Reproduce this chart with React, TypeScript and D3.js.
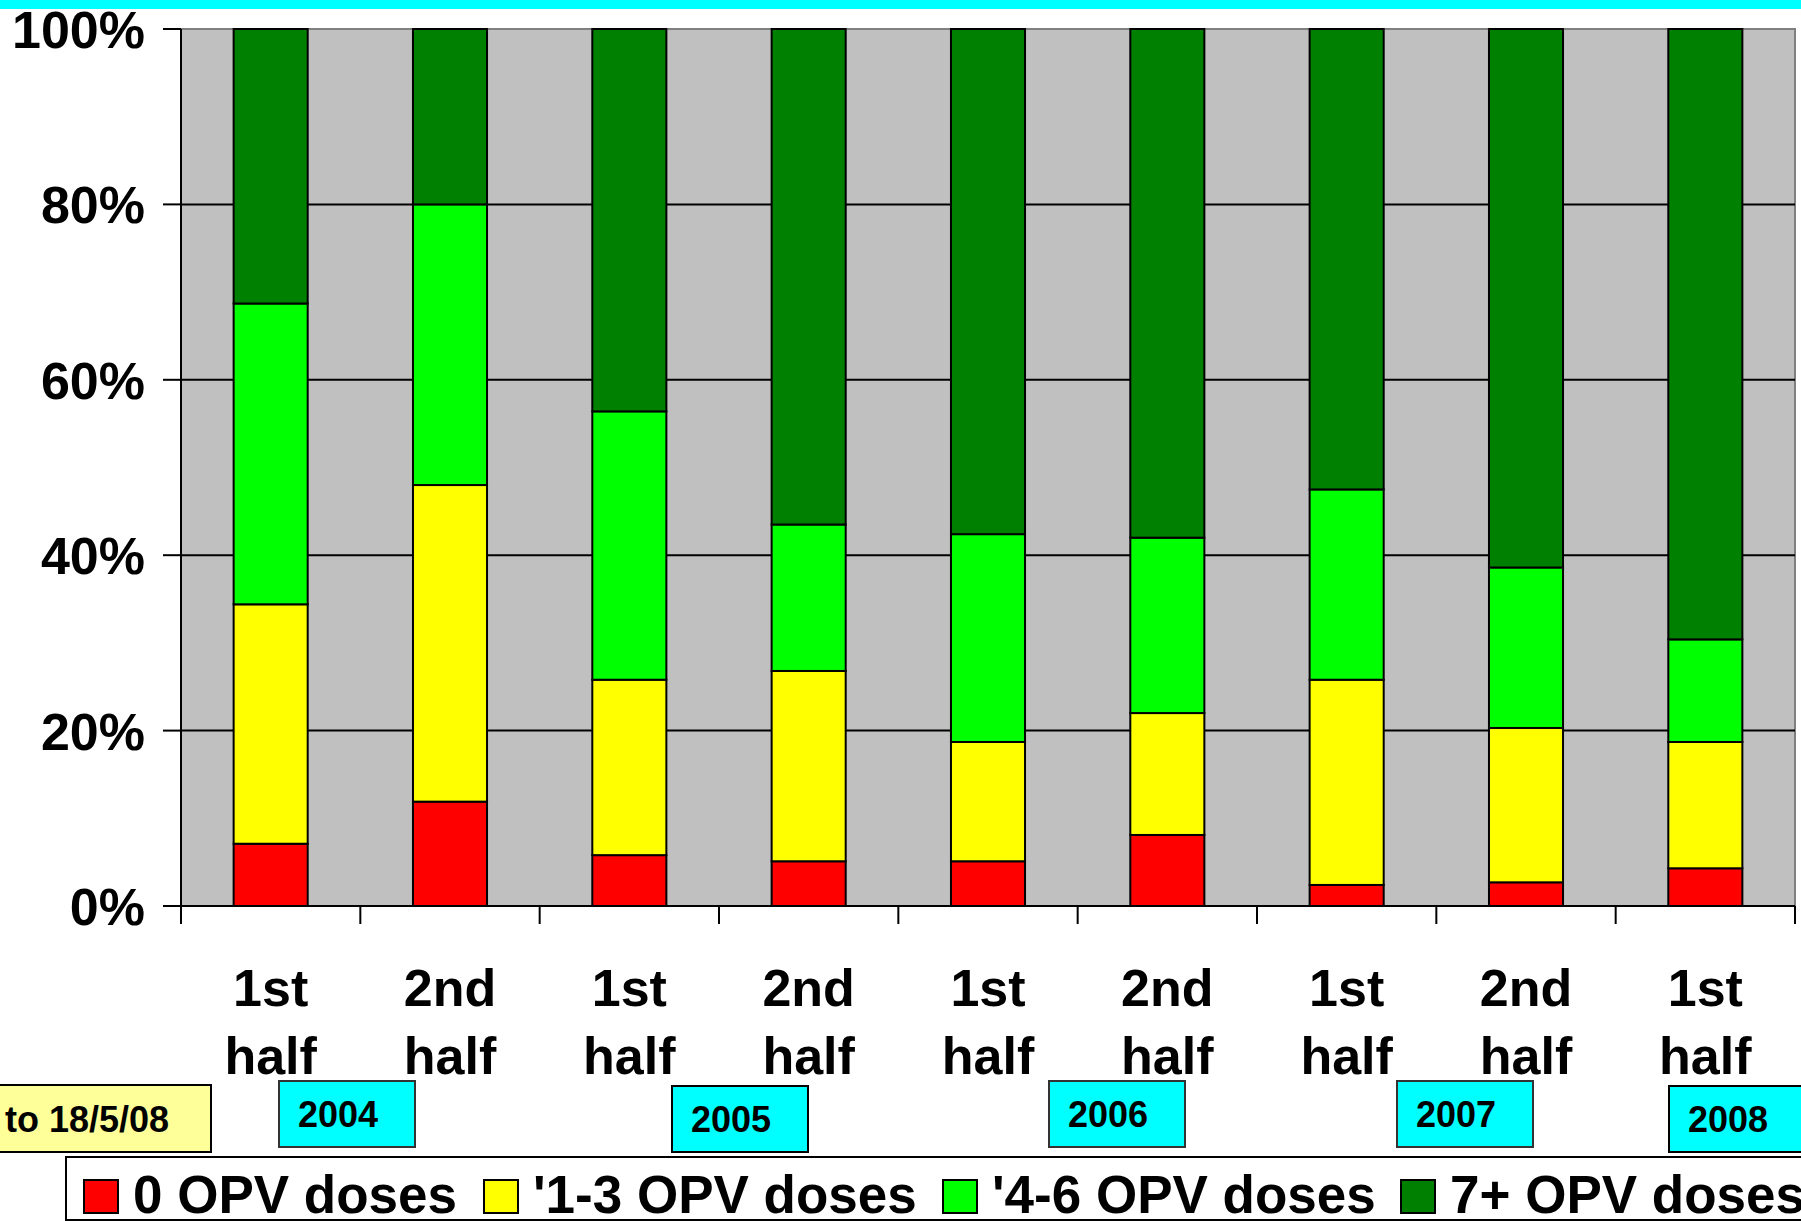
import React, { useEffect, useRef } from 'react';
import * as d3 from 'd3';

// Share of cases by OPV doses received, per half-year
const periods = ['1st half', '2nd half', '1st half', '2nd half', '1st half', '2nd half', '1st half', '2nd half', '1st half'];
const seriesNames = ['0 OPV doses', "'1-3 OPV doses", "'4-6 OPV doses", '7+ OPV doses'];
const seriesColors = ['#FF0000', '#FFFF00', '#00FF00', '#008000'];
const zeroDoses = [7.1, 11.9, 5.8, 5.1, 5.1, 8.1, 2.4, 2.7, 4.3];
const oneToThree = [27.3, 36.1, 20.0, 21.7, 13.6, 13.9, 23.4, 17.6, 14.4];
const fourToSix = [34.3, 32.0, 30.6, 16.7, 23.7, 20.0, 21.7, 18.3, 11.7];
const sevenPlus = [31.3, 20.0, 43.6, 56.5, 57.6, 58.0, 52.5, 61.4, 69.6];
const yTicks = [0, 20, 40, 60, 80, 100];
const years = ['2004', '2005', '2006', '2007', '2008'];
const dateNote = 'to 18/5/08';

const FONT = "'Liberation Sans', Arial, sans-serif";

const App = () => {
  const svgRef = useRef(null);

  useEffect(() => {
    document.body.style.margin = '0';
    const width = 1801;
    const height = 1221;
    const left = 181, right = 1795, top = 29, bottom = 906;

    const svg = d3.select(svgRef.current);
    svg.selectAll('*').remove();
    svg.attr('width', width).attr('height', height).style('display', 'block').style('background', '#fff');

    const rows = periods.map((p, i) => ({
      i, s0: zeroDoses[i], s1: oneToThree[i], s2: fourToSix[i], s3: sevenPlus[i]
    }));
    const keys = ['s0', 's1', 's2', 's3'];
    const stacked = d3.stack().keys(keys)(rows as any);

    const x = d3.scaleBand<number>()
      .domain(d3.range(periods.length))
      .range([left, right])
      .paddingInner(0.587)
      .paddingOuter(0.2935);
    const step = x.step();
    const y = d3.scaleLinear().domain([0, 100]).range([bottom, top]);

    // cyan strip at the top
    svg.append('rect').attr('x', 0).attr('y', 0).attr('width', width).attr('height', 9).attr('fill', '#00FFFF');

    // plot area
    svg.append('rect')
      .attr('x', left).attr('y', top).attr('width', right - left).attr('height', bottom - top)
      .attr('fill', '#C0C0C0').attr('stroke', '#808080').attr('stroke-width', 2);

    // gridlines
    svg.append('g').selectAll('line')
      .data(yTicks.filter(t => t > 0 && t < 100))
      .enter().append('line')
      .attr('x1', left).attr('x2', right)
      .attr('y1', d => y(d)).attr('y2', d => y(d))
      .attr('stroke', '#000').attr('stroke-width', 2);

    // bars
    svg.append('g').selectAll('g')
      .data(stacked)
      .enter().append('g')
      .attr('fill', (d, k) => seriesColors[k])
      .selectAll('rect')
      .data(d => d)
      .enter().append('rect')
      .attr('x', (d: any) => x(d.data.i)!)
      .attr('width', x.bandwidth())
      .attr('y', d => y(d[1]))
      .attr('height', d => y(d[0]) - y(d[1]))
      .attr('stroke', '#000').attr('stroke-width', 2);

    // axes
    svg.append('line').attr('x1', left).attr('x2', left).attr('y1', top).attr('y2', bottom + 18)
      .attr('stroke', '#000').attr('stroke-width', 2);
    svg.append('line').attr('x1', left).attr('x2', right).attr('y1', bottom).attr('y2', bottom)
      .attr('stroke', '#000').attr('stroke-width', 2);

    svg.append('g').selectAll('line')
      .data(yTicks)
      .enter().append('line')
      .attr('x1', left - 18).attr('x2', left)
      .attr('y1', d => y(d)).attr('y2', d => y(d))
      .attr('stroke', '#000').attr('stroke-width', 2);

    svg.append('g').selectAll('text')
      .data(yTicks)
      .enter().append('text')
      .attr('x', 145).attr('y', d => y(d) + 19)
      .attr('text-anchor', 'end')
      .attr('font-family', FONT).attr('font-weight', 'bold').attr('font-size', 52)
      .text(d => d + '%');

    svg.append('g').selectAll('line')
      .data(d3.range(periods.length + 1))
      .enter().append('line')
      .attr('x1', d => left + d * step).attr('x2', d => left + d * step)
      .attr('y1', bottom).attr('y2', bottom + 18)
      .attr('stroke', '#000').attr('stroke-width', 2);

    const labels = svg.append('g').selectAll('text')
      .data(periods)
      .enter().append('text')
      .attr('text-anchor', 'middle')
      .attr('font-family', FONT).attr('font-weight', 'bold').attr('font-size', 52);
    labels.append('tspan')
      .attr('x', (d, i) => x(i)! + x.bandwidth() / 2).attr('y', 1006)
      .text(d => d.split(' ')[0]);
    labels.append('tspan')
      .attr('x', (d, i) => x(i)! + x.bandwidth() / 2).attr('y', 1074)
      .text(d => d.split(' ')[1]);

    // date note box
    svg.append('rect').attr('x', -2).attr('y', 1085).attr('width', 213).attr('height', 67)
      .attr('fill', '#FFFF99').attr('stroke', '#000').attr('stroke-width', 2);
    svg.append('text').attr('x', 5).attr('y', 1132)
      .attr('font-family', FONT).attr('font-weight', 'bold').attr('font-size', 36)
      .text(dateNote);

    // year boxes
    const boxX = [279, 672, 1049, 1397, 1669];
    const boxY = [1081, 1086, 1081, 1081, 1086];
    const boxStroke = ['#333', '#000', '#333', '#333', '#000'];
    const yg = svg.append('g').selectAll('g')
      .data(years)
      .enter().append('g')
      .attr('transform', (d, i) => `translate(${boxX[i]},${boxY[i]})`);
    yg.append('rect').attr('width', 136).attr('height', 66)
      .attr('fill', '#00FFFF').attr('stroke', (d, i) => boxStroke[i]).attr('stroke-width', 2);
    yg.append('text').attr('x', 19).attr('y', 46)
      .attr('font-family', FONT).attr('font-weight', 'bold').attr('font-size', 36)
      .text(d => d);

    // legend
    svg.append('rect').attr('x', 66).attr('y', 1157).attr('width', 1800).attr('height', 63)
      .attr('fill', '#fff').attr('stroke', '#000').attr('stroke-width', 2);
    const legendX = [84, 484, 943, 1401];
    const lg = svg.append('g').selectAll('g')
      .data(seriesNames)
      .enter().append('g')
      .attr('transform', (d, k) => `translate(${legendX[k]},0)`);
    lg.append('rect').attr('y', 1180).attr('width', 34).attr('height', 33)
      .attr('fill', (d, k) => seriesColors[k]).attr('stroke', '#000').attr('stroke-width', 2);
    lg.append('text').attr('x', 49).attr('y', 1213)
      .attr('font-family', FONT).attr('font-weight', 'bold').attr('font-size', 53)
      .text(d => d);
  }, []);

  return <svg ref={svgRef}></svg>;
};

export default App;
